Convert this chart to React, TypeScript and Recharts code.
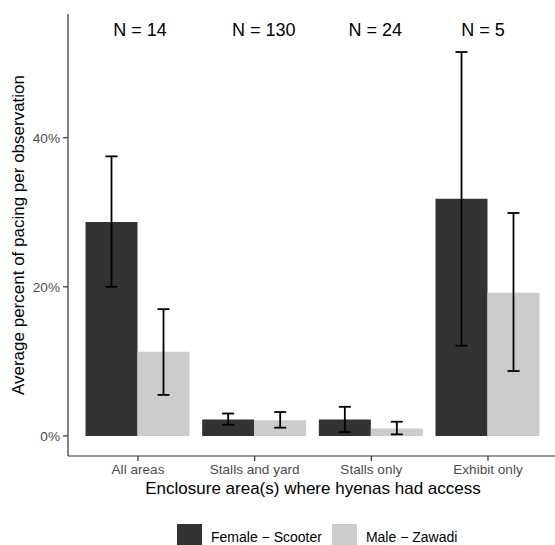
import { BarChart, Bar, XAxis, YAxis, ErrorBar, ReferenceDot, Legend } from "recharts";

const FONT = '"Liberation Sans", Arial, sans-serif';

// enclosure areas and sample sizes
const categories = ["All areas", "Stalls and yard", "Stalls only", "Exhibit only"];
const sampleSizes = [14, 130, 24, 5];

// mean % pacing and error bar bounds
const femaleMean = [28.7, 2.2, 2.2, 31.8];
const femaleLow = [20.0, 1.5, 0.5, 12.1];
const femaleHigh = [37.5, 3.0, 3.9, 51.5];
const maleMean = [11.3, 2.1, 1.0, 19.2];
const maleLow = [5.5, 1.1, 0.2, 8.7];
const maleHigh = [17.0, 3.2, 1.9, 29.9];

const seriesNames = ["Female \u2212 Scooter", "Male \u2212 Zawadi"];
const seriesColors = ["#333333", "#cccccc"];
const yTicks = [0, 20, 40];
const nLabelLevel = 54.5;

const data = categories.map((area, i) => ({
  area,
  female: femaleMean[i],
  male: maleMean[i],
  femaleErr: [femaleMean[i] - femaleLow[i], femaleHigh[i] - femaleMean[i]],
  maleErr: [maleMean[i] - maleLow[i], maleHigh[i] - maleMean[i]],
}));

function renderLegend() {
  return (
    <div style={{ display: "flex", alignItems: "center", fontFamily: FONT, fontSize: 14, color: "#000" }}>
      {seriesNames.map((name, i) => (
        <div key={name} style={{ display: "flex", alignItems: "center", marginRight: 10 }}>
          <span style={{ width: 25, height: 25, background: seriesColors[i], marginRight: 9, display: "inline-block" }} />
          <span>{name}</span>
        </div>
      ))}
    </div>
  );
}

export default function App() {
  const axisStroke = { stroke: "#333333", strokeWidth: 1.2 };
  // small horizontal nudges of the N labels, as in the original
  const nudge = [2, 9, 4, -5];
  return (
    <div
      style={{
        position: "fixed",
        left: 0,
        top: 0,
        width: 555,
        height: 545,
        overflow: "hidden",
        background: "#fff",
        fontFamily: FONT,
      }}
    >
      <BarChart
        width={560}
        height={545}
        data={data}
        margin={{ top: 14, right: 2, left: 0, bottom: 45 }}
        barCategoryGap="5%"
        barGap={0}
      >
        <XAxis
          dataKey="area"
          padding={{ left: 11.67, right: 11.67 }}
          height={44}
          interval={0}
          tickSize={5}
          tickMargin={3}
          axisLine={axisStroke}
          tickLine={axisStroke}
          tick={{ fill: "#4d4d4d", fontSize: 13.6 }}
          label={{
            value: "Enclosure area(s) where hyenas had access",
            position: "insideBottom",
            offset: 6,
            fill: "#000",
            fontSize: 17,
          }}
        />
        <XAxis
          xAxisId="top"
          dataKey="area"
          orientation="top"
          height={0}
          tick={false}
          tickLine={false}
          axisLine={axisStroke}
        />
        <YAxis
          type="number"
          domain={[-2.7, 56.6]}
          allowDataOverflow
          ticks={yTicks}
          tickFormatter={(v) => `${v}%`}
          width={68}
          tickSize={5}
          tickMargin={3}
          axisLine={axisStroke}
          tickLine={axisStroke}
          tick={{ fill: "#4d4d4d", fontSize: 13.6 }}
          label={{
            value: "Average percent of pacing per observation",
            angle: -90,
            position: "insideLeft",
            offset: 18,
            fill: "#000",
            fontSize: 17,
            style: { textAnchor: "middle" },
          }}
        />
        <Bar dataKey="female" name={seriesNames[0]} fill={seriesColors[0]} isAnimationActive={false}>
          <ErrorBar dataKey="femaleErr" width={6} stroke="#000" strokeWidth={1.8} direction="y" />
        </Bar>
        <Bar dataKey="male" name={seriesNames[1]} fill={seriesColors[1]} isAnimationActive={false}>
          <ErrorBar dataKey="maleErr" width={6} stroke="#000" strokeWidth={1.8} direction="y" />
        </Bar>
        {categories.map((c, i) => (
          <ReferenceDot
            key={c}
            x={c}
            y={nLabelLevel}
            r={0}
            stroke="none"
            fill="none"
            label={{
              value: `N = ${sampleSizes[i]}`,
              position: "center",
              fill: "#000",
              fontSize: 18,
              dx: nudge[i],
            }}
          />
        ))}
        <Legend
          layout="horizontal"
          verticalAlign="middle"
          align="center"
          wrapperStyle={{ left: 177, top: 524, width: "auto" }}
          content={renderLegend}
        />
      </BarChart>
    </div>
  );
}
